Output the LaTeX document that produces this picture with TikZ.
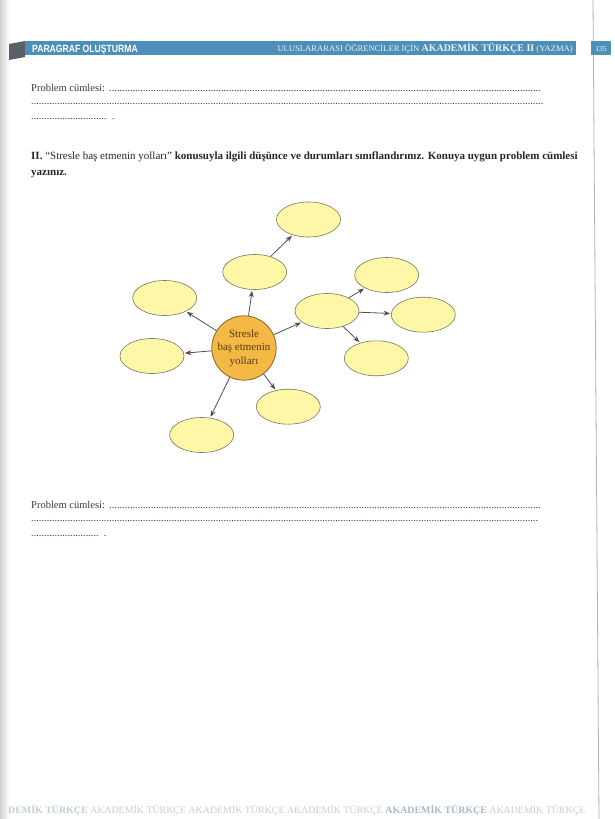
\documentclass[tikz,border=0pt]{standalone}
\usepackage{fontspec}
\setmainfont{Liberation Serif}
\newfontfamily\hsans{Liberation Sans}
\usetikzlibrary{shapes.geometric,arrows.meta}
\definecolor{bandblue}{HTML}{4C8FB8}
\definecolor{tabgray}{HTML}{5A6066}
\definecolor{bodytext}{HTML}{3A3A3A}
\definecolor{ellfill}{HTML}{FFF7A8}
\definecolor{elldraw}{HTML}{77775A}
\definecolor{circfill}{HTML}{F4B845}
\definecolor{circdraw}{HTML}{7A5420}
\definecolor{circtext}{HTML}{5C3A12}
\definecolor{arrowgray}{HTML}{505050}
\definecolor{wmark}{HTML}{C4CEDA}
\definecolor{wmarkdark}{HTML}{A9B8C8}
\newcommand\dotrow[1]{\hbox to #1{\leaders\hbox to 2.6pt{\hss.\hss}\hfill}}
\tikzset{
  bubble/.style={ellipse, draw=elldraw, fill=ellfill, line width=0.6pt,
    minimum width=64pt, minimum height=35pt, inner sep=0pt},
  hub/.style={circle, draw=circdraw, fill=circfill, line width=0.7pt,
    minimum size=60pt, inner sep=0pt, align=center, text=circtext,
    font=\fontsize{11}{13.5}\selectfont},
  link/.style={draw=arrowgray, line width=0.8pt,
    -{Stealth[length=6.5pt,width=5pt]}, shorten >=1pt},
  bodyline/.style={anchor=base west, inner sep=0pt, text=bodytext,
    font=\fontsize{10.5}{12}\selectfont},
  headtext/.style={anchor=base west, inner sep=0pt, text=black!85,
    font=\fontsize{11}{13}\selectfont}
}
\begin{document}
\begin{tikzpicture}[x=1pt,y=-1pt]
\useasboundingbox (0,0) rectangle (614,819);
\fill[white] (0,0) rectangle (614,819);
% left scan shading and gutter line
\shade[left color=black!18, right color=white] (0,0) rectangle (9,819);
\draw[black!30, line width=0.8pt] (593,0) -- (599,819);

% header band
\fill[tabgray] (9,44) -- (25,41) -- (25,57) -- (9,60) -- cycle;
\fill[bandblue] (25,41) rectangle (576,55);
\fill[bandblue] (591,41) rectangle (611,55);
\node[anchor=base west, inner sep=0pt, text=white, font=\hsans\bfseries\fontsize{10.5}{11}\selectfont] (hleft) at (32,52)
  {\scalebox{0.82}[1]{PARAGRAF OLUŞTURMA}};
\node[anchor=base east, inner sep=0pt, text=white!88!bandblue, font=\fontsize{8.6}{9}\selectfont] (hright) at (573,51.5)
  {ULUSLARARASI ÖĞRENCİLER İÇİN \textbf{\fontsize{10}{10}\selectfont AKADEMİK TÜRKÇE II} (YAZMA)};
\node[anchor=base, inner sep=0pt, text=white, font=\fontsize{7.5}{9}\selectfont] (pnum) at (601,51.5) {135};

% first problem sentence block
\node[bodyline] (p1a) at (31,91) {\hbox to 510pt{Problem cümlesi: \leaders\hbox to 2.6pt{\hss.\hss}\hfill}};
\node[bodyline] (p1b) at (31,104) {\dotrow{513pt}};
\node[bodyline] (p1c) at (31,119) {\dotrow{78pt}\ .};

% section II heading
\node[headtext] (h1) at (31,159) {\textbf{II.} “Stresle baş etmenin yolları” \textbf{konusuyla ilgili düşünce ve durumları sınıflandırınız. Konuya uygun problem cümlesi}};
\node[headtext] (h2) at (31,175) {\textbf{yazınız.}};

% mind map
\node[hub] (c) at (244,348) {Stresle\\baş etmenin\\yolları};
\node[bubble] (top) at (308.5,219.5) {};
\node[bubble] (um) at (254.7,272) {};
\node[bubble] (lu) at (164.7,298) {};
\node[bubble] (l) at (152,356) {};
\node[bubble] (bl) at (201.7,435) {};
\node[bubble] (bm) at (288.3,406.7) {};
\node[bubble] (rh) at (327,311) {};
\node[bubble] (rt) at (386.7,275) {};
\node[bubble] (r) at (423.3,314.7) {};
\node[bubble] (rb) at (376.3,358.3) {};

\draw[link] (c) -- (um);
\draw[link] (um) -- (top);
\draw[link] (c) -- (lu);
\draw[link] (c) -- (l);
\draw[link] (c) -- (bl);
\draw[link] (c) -- (bm);
\draw[link] (c) -- (rh);
\draw[link] (rh) -- (rt);
\draw[link] (rh) -- (r);
\draw[link] (rh) -- (rb);

% second problem sentence block
\node[bodyline] (p2a) at (31,508) {\hbox to 512pt{Problem cümlesi: \leaders\hbox to 2.6pt{\hss.\hss}\hfill}};
\node[bodyline] (p2b) at (31,521) {\dotrow{509pt}};
\node[bodyline] (p2c) at (31,536) {\dotrow{70pt}\ .};

% footer watermark
\node[anchor=base west, inner sep=0pt, text=wmark, font=\fontsize{9.9}{11}\selectfont] (foot) at (8,813)
  {\textbf{DEMİK TÜRKÇE} AKADEMİK TÜRKÇE AKADEMİK TÜRKÇE AKADEMİK TÜRKÇE \textcolor{wmarkdark}{\textbf{AKADEMİK TÜRKÇE}} AKADEMİK TÜRKÇE};
\end{tikzpicture}
\end{document}
